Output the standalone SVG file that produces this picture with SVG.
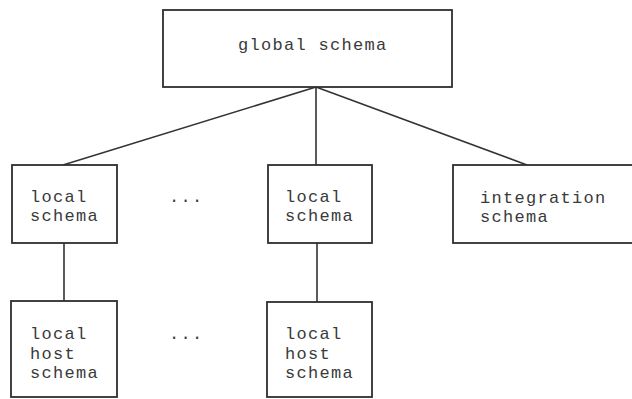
<svg xmlns="http://www.w3.org/2000/svg" width="632" height="399" viewBox="0 0 632 399">
  <style>
    .box { fill: #ffffff; stroke: #2e2e2e; stroke-width: 1.8; }
    .link { stroke: #333333; stroke-width: 1.6; fill: none; }
    .label { font-family: "Liberation Mono", "Courier New", monospace; font-size: 17px; letter-spacing: 1.3px; fill: #3a3a3a; }
  </style>
  <rect width="632" height="399" fill="#ffffff"/>

  <!-- connectors -->
  <g id="connectors">
    <line class="link" x1="316" y1="87" x2="63" y2="165"/>
    <line class="link" x1="316" y1="87" x2="316" y2="165"/>
    <line class="link" x1="316" y1="87" x2="527" y2="165"/>
    <line class="link" x1="64" y1="243" x2="64" y2="301"/>
    <line class="link" x1="317" y1="243" x2="317" y2="302"/>
  </g>

  <!-- top level -->
  <g id="global-schema">
    <rect class="box" x="163" y="10" width="289" height="77"/>
    <text class="label" x="238" y="50">global schema</text>
  </g>

  <!-- middle row -->
  <g id="local-schema-1">
    <rect class="box" x="12" y="165" width="105" height="78"/>
    <text class="label" x="30" y="202">local</text>
    <text class="label" x="30" y="221">schema</text>
  </g>
  <g id="dots-middle">
    <text class="label" x="169" y="202">...</text>
  </g>
  <g id="local-schema-2">
    <rect class="box" x="268" y="165" width="104" height="78"/>
    <text class="label" x="285" y="202">local</text>
    <text class="label" x="285" y="221">schema</text>
  </g>
  <g id="integration-schema">
    <rect class="box" x="453" y="165" width="190" height="78"/>
    <text class="label" x="480" y="203">integration</text>
    <text class="label" x="480" y="222">schema</text>
  </g>

  <!-- bottom row -->
  <g id="local-host-schema-1">
    <rect class="box" x="11" y="301" width="106" height="96"/>
    <text class="label" x="30" y="339">local</text>
    <text class="label" x="30" y="358.5">host</text>
    <text class="label" x="30" y="378">schema</text>
  </g>
  <g id="dots-bottom">
    <text class="label" x="169" y="339">...</text>
  </g>
  <g id="local-host-schema-2">
    <rect class="box" x="267" y="302" width="105" height="95"/>
    <text class="label" x="285" y="339">local</text>
    <text class="label" x="285" y="358.5">host</text>
    <text class="label" x="285" y="378">schema</text>
  </g>
</svg>
